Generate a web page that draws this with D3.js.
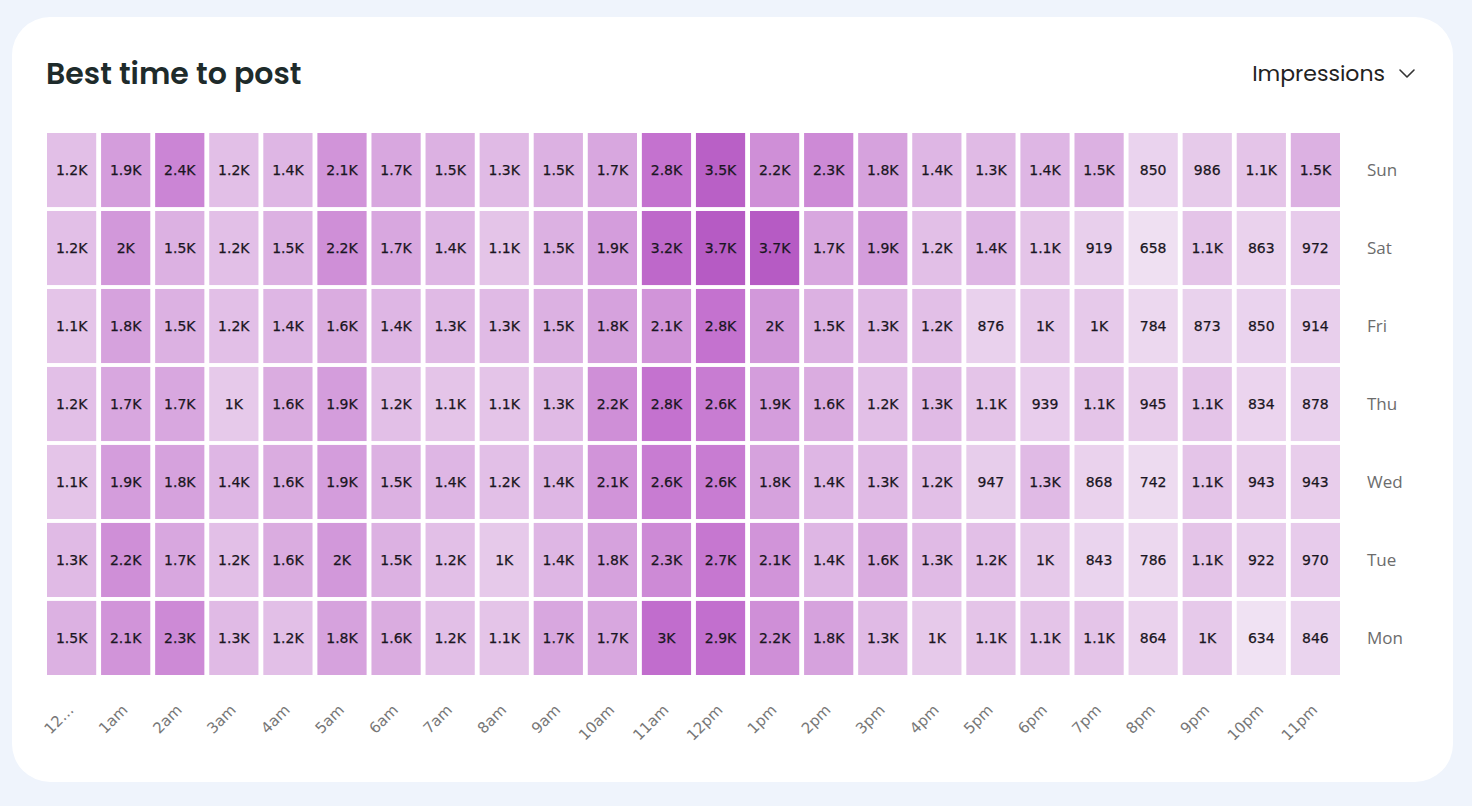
<!DOCTYPE html>
<html>
<head>
<meta charset="utf-8">
<script src="https://cdn.jsdelivr.net/npm/d3@7"></script>
<style>
  html, body { margin: 0; padding: 0; background: #eff4fc; }
  svg { display: block; }
</style>
</head>
<body>
<svg id="chart" width="1472" height="806"></svg>
<script>
// ---- data ----
const hours = ["12am","1am","2am","3am","4am","5am","6am","7am","8am","9am","10am","11am",
               "12pm","1pm","2pm","3pm","4pm","5pm","6pm","7pm","8pm","9pm","10pm","11pm"];
const hourLabels = ["12…","1am","2am","3am","4am","5am","6am","7am","8am","9am","10am","11am",
                    "12pm","1pm","2pm","3pm","4pm","5pm","6pm","7pm","8pm","9pm","10pm","11pm"];
const days = ["Sun","Sat","Fri","Thu","Wed","Tue","Mon"];

const sun = [1200,1900,2400,1200,1400,2100,1700,1500,1300,1500,1700,2800,3500,2200,2300,1800,1400,1300,1400,1500,850,986,1100,1500];
const sat = [1200,2000,1500,1200,1500,2200,1700,1400,1100,1500,1900,3200,3700,3700,1700,1900,1200,1400,1100,919,658,1100,863,972];
const fri = [1100,1800,1500,1200,1400,1600,1400,1300,1300,1500,1800,2100,2800,2000,1500,1300,1200,876,1000,1000,784,873,850,914];
const thu = [1200,1700,1700,1000,1600,1900,1200,1100,1100,1300,2200,2800,2600,1900,1600,1200,1300,1100,939,1100,945,1100,834,878];
const wed = [1100,1900,1800,1400,1600,1900,1500,1400,1200,1400,2100,2600,2600,1800,1400,1300,1200,947,1300,868,742,1100,943,943];
const tue = [1300,2200,1700,1200,1600,2000,1500,1200,1000,1400,1800,2300,2700,2100,1400,1600,1300,1200,1000,843,786,1100,922,970];
const mon = [1500,2100,2300,1300,1200,1800,1600,1200,1100,1700,1700,3000,2900,2200,1800,1300,1000,1100,1100,1100,864,1000,634,846];

const seriesByDay = { Sun: sun, Sat: sat, Fri: fri, Thu: thu, Wed: wed, Tue: tue, Mon: mon };

const title = "Best time to post";
const metric = "Impressions";

// color stops (value -> colour)
const colorStops = [634, 1000, 1800, 2800, 3700];
const colorRange = ["#f0e2f3", "#e6c9ea", "#d6a2dd", "#c472cf", "#b65bc4"];

// ---- build ----
const cells = [];
days.forEach(d => seriesByDay[d].forEach((v, i) => cells.push({ day: d, hour: hours[i], value: v })));

const fmt = v => v >= 1000 ? (Math.round(v / 100) / 10).toString() + "K" : String(v);

const svg = d3.select("#chart");

// card
svg.append("rect")
  .attr("x", 12).attr("y", 17).attr("width", 1441).attr("height", 765)
  .attr("rx", 38).attr("ry", 38)
  .attr("fill", "#ffffff");

svg.append("text")
  .attr("x", 46).attr("y", 84)
  .attr("font-family", "Poppins, 'Open Sans', sans-serif")
  .attr("font-weight", 600)
  .attr("font-size", 30)
  .attr("fill", "#1e2b2b")
  .text(title);

svg.append("text")
  .attr("x", 1385).attr("y", 81)
  .attr("text-anchor", "end")
  .attr("font-family", "Poppins, 'Open Sans', sans-serif")
  .attr("font-size", 22)
  .attr("fill", "#222")
  .text(metric);

svg.append("path")
  .attr("d", "M1400,70 L1407,77 L1414,70")
  .attr("fill", "none")
  .attr("stroke", "#333")
  .attr("stroke-width", 1.6)
  .attr("stroke-linecap", "round")
  .attr("stroke-linejoin", "round");

const x = d3.scaleBand().domain(hours).range([47, 1340]).paddingInner(0.09);
const y = d3.scaleBand().domain(days).range([133, 675]).paddingInner(0.05);
const color = d3.scaleLinear()
  .domain(colorStops)
  .range(colorRange)
  .interpolate(d3.interpolateRgb)
  .clamp(true);

const g = svg.append("g");
g.selectAll("rect.cell").data(cells).join("rect")
  .attr("class", "cell")
  .attr("x", d => x(d.hour))
  .attr("y", d => y(d.day))
  .attr("width", x.bandwidth())
  .attr("height", y.bandwidth())
  .attr("fill", d => color(d.value));

g.selectAll("text.val").data(cells).join("text")
  .attr("class", "val")
  .attr("x", d => x(d.hour) + x.bandwidth() / 2)
  .attr("y", d => y(d.day) + y.bandwidth() / 2)
  .attr("dy", "0.36em")
  .attr("text-anchor", "middle")
  .attr("font-family", "'DejaVu Sans', sans-serif")
  .attr("font-size", 14)
  .attr("fill", "#1a1622")
  .attr("stroke", "#1a1622")
  .attr("stroke-width", 0.25)
  .text(d => fmt(d.value));

// row labels (right axis)
const yAxis = d3.axisRight(y).tickSize(0).tickPadding(0);
const ya = svg.append("g").attr("transform", "translate(1367,0)").call(yAxis);
ya.select(".domain").remove();
ya.selectAll("text")
  .attr("font-family", "'Open Sans', 'Noto Sans', sans-serif")
  .attr("font-size", 17)
  .attr("fill", "#6c6c6c")
  .attr("text-anchor", "start")
  .attr("dy", "0.35em");

// hour labels (bottom axis)
const xAxis = d3.axisBottom(x).tickSize(0).tickFormat((d, i) => hourLabels[i]);
const xa = svg.append("g").attr("transform", "translate(0,711)").call(xAxis);
xa.select(".domain").remove();
xa.selectAll(".tick text")
  .attr("font-family", "'DejaVu Sans', sans-serif")
  .attr("font-size", 15)
  .attr("fill", "#777777")
  .attr("text-anchor", "end")
  .attr("dy", "0")
  .attr("y", 0)
  .attr("transform", "translate(3,0) rotate(-45)");
</script>
</body>
</html>
